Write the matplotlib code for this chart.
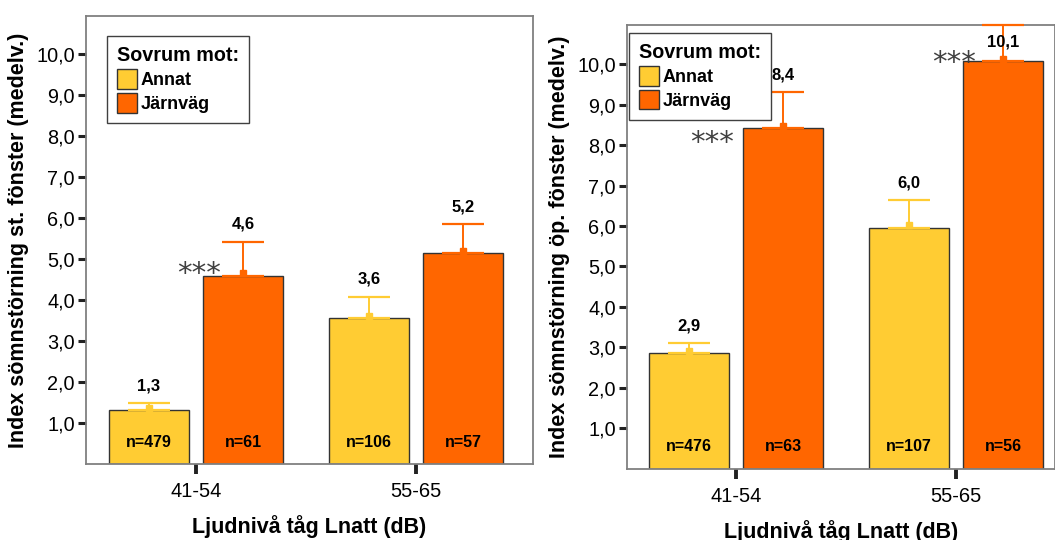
import matplotlib
matplotlib.use("Agg")
import matplotlib.pyplot as plt
from matplotlib.patches import Patch
import numpy as np

plt.rcParams['font.family'] = ['Liberation Sans', 'DejaVu Sans']

# Noise level groups on the x axis
groups = ['41-54', '55-65']
series = ['Annat', 'Järnväg']
colors = ['#FFCC33', '#FF6600']

# Sleep disturbance index, closed window
closed_mean = [[1.32, 3.56], [4.60, 5.14]]
closed_err = [[0.18, 0.53], [0.83, 0.71]]
closed_lbl = [['1,3', '3,6'], ['4,6', '5,2']]
closed_n = [['n=479', 'n=106'], ['n=61', 'n=57']]

# Sleep disturbance index, open window
open_mean = [[2.86, 5.96], [8.42, 10.08]]
open_err = [[0.25, 0.68], [0.90, 0.88]]
open_lbl = [['2,9', '6,0'], ['8,4', '10,1']]
open_n = [['n=476', 'n=107'], ['n=63', 'n=56']]

yticks = [1, 2, 3, 4, 5, 6, 7, 8, 9, 10]
ytick_labels = ['1,0', '2,0', '3,0', '4,0', '5,0', '6,0', '7,0', '8,0', '9,0', '10,0']

width = 0.364
offset = 0.214
narrow = ['Liberation Sans Narrow', 'Liberation Sans']


def panel(ax, means, errs, lbls, ns, ylabel, ylim, xlim, stars, leg_anchor):
    x = np.arange(len(groups))
    for i in range(len(series)):
        xs = x + (2 * i - 1) * offset
        ax.bar(xs, means[i], width, color=colors[i], edgecolor='#333333',
               linewidth=1.0, zorder=2)
        ax.errorbar(xs, means[i], yerr=[np.zeros(len(groups)), errs[i]],
                    fmt='none', ecolor=colors[i], elinewidth=1.4,
                    capsize=15, capthick=1.6, zorder=3, clip_on=False)
        ax.plot(xs, np.array(means[i]) + 0.06, 's', color=colors[i],
                markersize=4.5, zorder=3)
        for j in range(len(groups)):
            top = means[i][j] + errs[i][j]
            ly = min(top + 0.42, ylim[1] - 0.42)
            ax.text(xs[j], ly, lbls[i][j], ha='center', va='center',
                    fontsize=12, fontweight='bold', family=narrow, zorder=4)
            ax.text(xs[j], 0.54, ns[i][j], ha='center', va='center',
                    fontsize=11.5, fontweight='bold', family=narrow, zorder=4)

    # significance stars next to the railway bars
    for j, dx, dy in stars:
        ax.text(x[j] + offset - width / 2 + dx, means[1][j] + dy, '***',
                ha='center', va='center', fontsize=21, color='#404040',
                family='DejaVu Sans', zorder=4)

    ax.set_xlim(*xlim)
    ax.set_ylim(*ylim)
    ax.set_xticks(x)
    ax.set_xticklabels(groups, fontsize=14.5)
    ax.set_yticks(yticks)
    ax.set_yticklabels(ytick_labels, fontsize=14.3)
    ax.tick_params(axis='y', length=6, width=2.2, color='#222222', pad=2)
    ax.tick_params(axis='x', length=7, width=2.8, color='#222222', pad=6)
    for s in ax.spines.values():
        s.set_color('#808080')
        s.set_linewidth(1.3)
    ax.set_ylabel(ylabel, fontsize=15.5, fontweight='bold', labelpad=5)
    ax.set_xlabel('Ljudnivå tåg Lnatt (dB)', fontsize=15.5, fontweight='bold',
                  labelpad=10)

    handles = [Patch(facecolor=c, edgecolor='#333333', linewidth=1.0)
               for c in colors]
    leg = ax.legend(handles, series, title='Sovrum mot:', loc='upper left',
                    bbox_to_anchor=leg_anchor, borderaxespad=0,
                    frameon=True, fancybox=False,
                    edgecolor='#404040', framealpha=1, alignment='left',
                    handlelength=1.1, handleheight=1.3, handletextpad=0.2,
                    labelspacing=0.22, borderpad=0.55,
                    prop={'weight': 'bold', 'size': 13},
                    title_fontproperties={'weight': 'bold', 'size': 14.2})
    leg.get_frame().set_linewidth(1.0)
    leg.set_zorder(5)


fig = plt.figure(figsize=(10.55, 5.4), dpi=100)
ax1 = fig.add_axes([86 / 1055, 1 - 464.3 / 540, 447 / 1055, 448.3 / 540])
ax2 = fig.add_axes([627 / 1055, 1 - 468.7 / 540, 428 / 1055, 443.7 / 540])

panel(ax1, closed_mean, closed_err, closed_lbl, closed_n,
      'Index sömnstörning st. fönster (medelv.)', (0, 10.93), (-0.5, 1.53),
      [(0, -0.02, 0.03)], (0.047, 0.955))
panel(ax2, open_mean, open_err, open_lbl, open_n,
      'Index sömnstörning öp. fönster (medelv.)', (0, 10.97), (-0.495, 1.45),
      [(0, -0.14, -0.37), (1, -0.04, -0.05)], (0.005, 0.982))

fig.savefig('out.png', dpi=100)
